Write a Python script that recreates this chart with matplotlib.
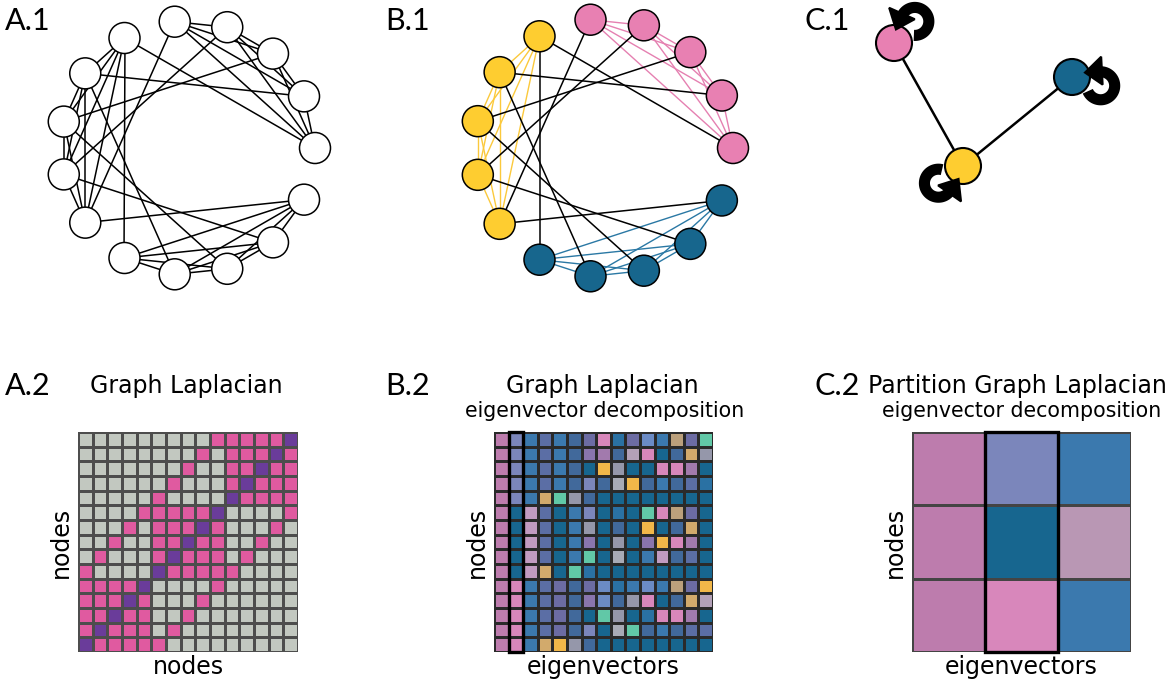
import numpy as np
import matplotlib.pyplot as plt
from matplotlib.colors import ListedColormap, BoundaryNorm
from matplotlib.patches import Circle, Rectangle, Polygon

W, H = 1174, 685

# graph: three groups of five nodes, node i sits at 24*i degrees on a circle
n_nodes = 15
groups = [[0, 1, 2, 3, 4], [5, 6, 7, 8, 9], [10, 11, 12, 13, 14]]
group_colors = ['#e880b2', '#fecd30', '#17668d']
group_edge_colors = ['#e580b1', '#fbc93c', '#2a78a4']
bridges = [(0, 5), (1, 6), (2, 7), (3, 8), (4, 9),
           (5, 10), (6, 11), (7, 12), (8, 13), (9, 14)]

# partition graph (C.1): one node per group, layout in panel pixels
partition_pos = np.array([[54, 43], [123, 166], [232, 77]])
partition_edges = [(0, 1), (1, 2)]
loop_dirs = [46, 215, -17]   # direction of self loop from node (deg)

# eigenvector matrix colours (B.2), rows top to bottom
palette = {
    'D': '#17668f', 'B': '#3b79ae', 'C': '#2a71a3', 'T': '#41699b',
    'S': '#5b6ea5', 'U': '#6c6ca3', 'X': '#8975ad', 'L': '#7b86bb',
    'K': '#6b8bc5', 'M': '#bd7cad', 'P': '#d887bb', 'V': '#a27aad',
    'W': '#c19bc1', 'G': '#9597aa', 'H': '#a8abb6', 'R': '#b3a1b8',
    'N': '#bba07c', 'O': '#d2aa6c', 'Y': '#f1b749', 'E': '#61c8a7',
    'Q': '#b997b4',
}
eig_rows = [
    "MLBSBTUPCUKBNUE",
    "MLBSBTXVTRPDTOG",
    "MLBSBTDYGDDPPVD",
    "MLBSBTLTHYTBTSC",
    "MLBOEGTDDDDDDDD",
    "MDWSDBLDCDEPNUD",
    "MDWSDBGDTDYDTOD",
    "MDWSDBXDGDXYPVD",
    "MDWSDBEDHDBWTSD",
    "MDWODECDDDDDDDD",
    "MPBSUTUKCBKBNUY",
    "MPBSUTXKTGPDTOR",
    "MPBSUTDEGDCPPVD",
    "MPBSUTLDHETBTSS",
    "MPBOYGTDDDDDDDD",
]
part_rows = ["MLB", "MDQ", "MPB"]
highlight_col = 1

node_group = np.zeros(n_nodes, dtype=int)
for g, members in enumerate(groups):
    node_group[members] = g

adj = np.zeros((n_nodes, n_nodes))
for members in groups:
    for a in members:
        for b in members:
            if a != b:
                adj[a, b] = 1
for i, j in bridges:
    adj[i, j] = adj[j, i] = 1
lap = np.diag(adj.sum(axis=1)) - adj

fig = plt.figure(figsize=(W / 100, H / 100), dpi=100)


def px_axes(x0, y0, x1, y1):
    return fig.add_axes([x0 / W, 1 - y1 / H, (x1 - x0) / W, (y1 - y0) / H])


def px_text(x, y, s, **kw):
    fig.text(x / W, 1 - y / H, s, **kw)


def draw_circle_graph(ax, colored, node_r):
    ang = np.deg2rad(np.arange(n_nodes) * 360 / n_nodes)
    pos = np.column_stack([np.cos(ang), np.sin(ang)])
    for g, members in enumerate(groups):
        for a in range(len(members)):
            for b in range(a + 1, len(members)):
                i, j = members[a], members[b]
                ax.plot(pos[[i, j], 0], pos[[i, j], 1],
                        color=group_edge_colors[g] if colored else 'black',
                        lw=1.0 if colored else 1.1, zorder=1)
    for i, j in bridges:
        ax.plot(pos[[i, j], 0], pos[[i, j], 1], color='black', lw=1.1, zorder=1)
    for i in range(n_nodes):
        fc = group_colors[node_group[i]] if colored else 'white'
        ax.add_patch(Circle(pos[i], node_r, fc=fc, ec='black', lw=1.1, zorder=2))


# A.1 and B.1
for (cx, r, colored) in [(188, 127, False), (604, 129, True)]:
    ax = px_axes(cx - 150, -2, cx + 150, 298)
    half = 150 / r
    ax.set_xlim(-half, half)
    ax.set_ylim(-half, half)
    ax.set_aspect('equal')
    ax.axis('off')
    draw_circle_graph(ax, colored, 15.5 / r)

# C.1 partition graph with self loops (y axis points down, pixel units)
ax = px_axes(840, 0, 1174, 230)
ax.set_xlim(0, 334)
ax.set_ylim(230, 0)
ax.axis('off')
for i, j in partition_edges:
    ax.plot(partition_pos[[i, j], 0], partition_pos[[i, j], 1], color='black', lw=1.8, zorder=1)
ring_r, ring_d = 14, 30
for k in range(3):
    ax.add_patch(Circle(partition_pos[k], 18, fc=group_colors[k], ec='black', lw=1.5, zorder=2))
    a = np.deg2rad(loop_dirs[k])
    c = partition_pos[k] + ring_d * np.array([np.cos(a), -np.sin(a)])
    nd = loop_dirs[k] + 180
    t = np.deg2rad(np.linspace(nd + 40, nd + 290, 80))
    ax.plot(c[0] + ring_r * np.cos(t), c[1] - ring_r * np.sin(t),
            color='black', lw=8, solid_capstyle='butt', zorder=3)
    te = t[-1]
    end = c + ring_r * np.array([np.cos(te), -np.sin(te)])
    u = np.array([-np.sin(te), -np.cos(te)])
    nrm = np.array([np.cos(te), -np.sin(te)])
    head = [end - 2 * u + 15 * nrm, end - 2 * u - 13 * nrm, end + 15 * u]
    ax.add_patch(Polygon(head, closed=True, fc='black', ec='black', lw=1.5, zorder=3))

# A.2 Laplacian
ax = px_axes(78, 432, 298, 652)
lap_cmap = ListedColormap(['#e05aa0', '#c2c8c0', '#6a3c9a'])
lap_norm = BoundaryNorm([-1.5, -0.5, 0.5, 20], 3)
ax.pcolormesh(lap, cmap=lap_cmap, norm=lap_norm, edgecolors='#4d4d4d', linewidth=0.8)
ax.set_xlim(0, n_nodes)
ax.set_ylim(0, n_nodes)

# B.2 eigenvectors
keys = list(palette.keys())
pal_cmap = ListedColormap([palette[k] for k in keys])
eig_idx = np.array([[keys.index(ch) for ch in row] for row in eig_rows])
axb = px_axes(494, 432, 713, 652)
axb.pcolormesh(eig_idx, cmap=pal_cmap, vmin=-0.5, vmax=len(keys) - 0.5,
               edgecolors='#2a2a2a', linewidth=0.8)
axb.set_xlim(0, 15)
axb.set_ylim(15, 0)
axb.add_patch(Rectangle((highlight_col, 0), 1, 15, fill=False, ec='black', lw=2.4, clip_on=False, zorder=3))

# C.2 partition eigenvectors
part_idx = np.array([[keys.index(ch) for ch in row] for row in part_rows])
axc = px_axes(912, 432, 1131, 652)
axc.pcolormesh(part_idx, cmap=pal_cmap, vmin=-0.5, vmax=len(keys) - 0.5,
               edgecolors='#444444', linewidth=1.0)
axc.set_xlim(0, 3)
axc.set_ylim(3, 0)
axc.add_patch(Rectangle((highlight_col, 0), 1, 3, fill=False, ec='black', lw=2.4, clip_on=False, zorder=3))

for a, xl in [(ax, 'nodes'), (axb, 'eigenvectors'), (axc, 'eigenvectors')]:
    a.set_xticks([])
    a.set_yticks([])
    for s in a.spines.values():
        s.set_visible(False)
    a.set_xlabel(xl, fontsize=17, labelpad=2)
    a.set_ylabel('nodes', fontsize=17, labelpad=4)

# titles
px_text(186, 393, 'Graph Laplacian', fontsize=17, ha='center', va='baseline')
px_text(602, 393, 'Graph Laplacian', fontsize=17, ha='center', va='baseline')
px_text(605, 417, 'eigenvector decomposition', fontsize=14.8, ha='center', va='baseline')
px_text(1017, 393, 'Partition Graph Laplacian', fontsize=17, ha='center', va='baseline')
px_text(1022, 417, 'eigenvector decomposition', fontsize=14.8, ha='center', va='baseline')

for lab, x, y in [('A.1', 5, 30), ('B.1', 385, 30), ('C.1', 805, 30),
                  ('A.2', 5, 395), ('B.2', 385, 395), ('C.2', 815, 395)]:
    px_text(x, y, lab, fontsize=22, family='Lato', ha='left', va='baseline')

fig.savefig('out.png', dpi=100)
